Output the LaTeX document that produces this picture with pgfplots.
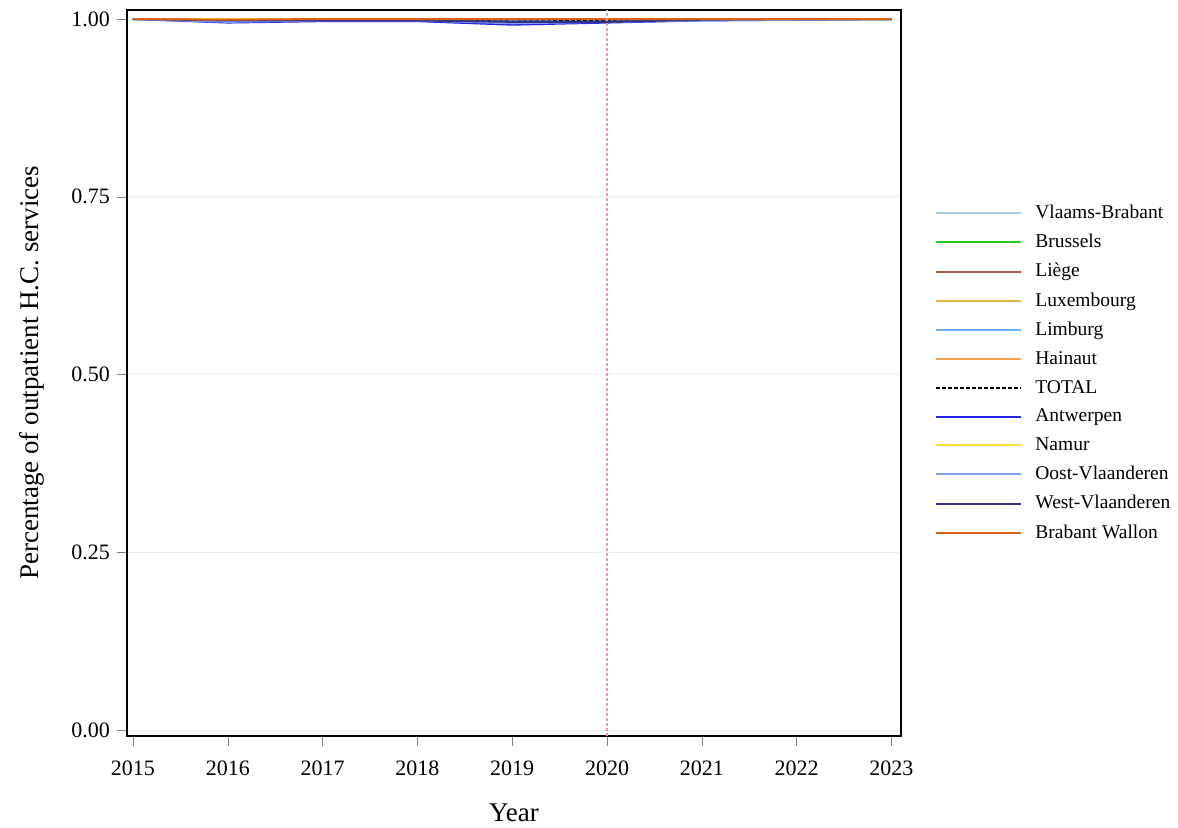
\documentclass[border=0pt]{standalone}
\usepackage{pgfplots}
\pgfplotsset{compat=1.18}
\usepackage{fontspec}
\setmainfont{Liberation Serif}
\definecolor{vbcol}{RGB}{166,206,227}
\definecolor{brcol}{RGB}{34,204,34}
\definecolor{licol}{RGB}{160,90,70}
\definecolor{lucol}{RGB}{232,176,64}
\definecolor{lmcol}{RGB}{102,178,255}
\definecolor{hacol}{RGB}{245,160,80}
\definecolor{ancol}{RGB}{34,34,224}
\definecolor{nacol}{RGB}{255,216,48}
\definecolor{ovcol}{RGB}{127,160,240}
\definecolor{wvcol}{RGB}{48,48,144}
\definecolor{bwcol}{RGB}{224,96,16}
\definecolor{refcol}{RGB}{240,150,160}
\begin{document}
\begin{tikzpicture}
\useasboundingbox (-63.5pt,-46pt) rectangle (525.5pt,368pt);
\begin{axis}[
  scale only axis, width=387pt, height=363pt,
  xmin=2014.937, xmax=2023.1,
  ymin=-0.0084, ymax=1.0127,
  xtick={2015,...,2023},
  ytick={0,0.25,0.5,0.75,1},
  yticklabel style={/pgf/number format/fixed,/pgf/number format/fixed zerofill,/pgf/number format/precision=2},
  xticklabel style={/pgf/number format/1000 sep={}, yshift=-4pt},
  /pgf/number format/assume math mode=true,
  tick label style={font=\fontsize{11}{13}\selectfont},
  label style={font=\fontsize{13.5}{15}\selectfont},
  tick align=outside, major tick length=5pt,
  tick pos=left,
  ymajorgrids, grid style={gray!15, line width=0.4pt},
  axis line style={line width=0.6pt},
  xlabel={Year}, ylabel={Percentage of outpatient H.C. services},
  xlabel style={yshift=-7pt},
  ylabel style={yshift=6.5pt},
  every axis plot/.append style={line width=1pt, mark=none},
  legend style={at={(1,0.5)}, anchor=west, xshift=17pt, draw=none, fill=none,
    font=\fontsize{9.75}{10.5}\selectfont, row sep=2.4pt, inner sep=0pt,
    nodes={inner xsep=6.5pt}},
  legend cell align=left,
  legend image code/.code={\draw[#1] (0pt,0pt) -- (42.5pt,0pt);},
]
\addplot[color=vbcol] coordinates {(2015,1)(2016,0.999)(2017,0.999)(2018,0.999)(2019,0.998)(2020,0.999)(2021,0.999)(2022,1)(2023,1)};
\addlegendentry{Vlaams-Brabant}
\addplot[color=brcol] coordinates {(2015,1)(2016,0.999)(2017,0.999)(2018,0.999)(2019,0.999)(2020,0.999)(2021,1)(2022,1)(2023,1)};
\addlegendentry{Brussels}
\addplot[color=licol] coordinates {(2015,1)(2016,1)(2017,1)(2018,1)(2019,1)(2020,1)(2021,1)(2022,1)(2023,1)};
\addlegendentry{Liège}
\addplot[color=lucol] coordinates {(2015,1)(2016,0.999)(2017,1)(2018,1)(2019,0.999)(2020,1)(2021,1)(2022,1)(2023,1)};
\addlegendentry{Luxembourg}
\addplot[color=lmcol] coordinates {(2015,1)(2016,0.998)(2017,0.999)(2018,0.999)(2019,0.997)(2020,0.998)(2021,0.999)(2022,1)(2023,1)};
\addlegendentry{Limburg}
\addplot[color=hacol] coordinates {(2015,1)(2016,1)(2017,1)(2018,1)(2019,1)(2020,1)(2021,1)(2022,1)(2023,1)};
\addlegendentry{Hainaut}
\addplot[color=black, line width=0.6pt, dash pattern=on 2pt off 1pt] coordinates {(2015,1)(2016,0.998)(2017,0.999)(2018,0.999)(2019,0.997)(2020,0.998)(2021,0.999)(2022,1)(2023,1)};
\addlegendentry{TOTAL}
\addplot[color=ancol] coordinates {(2015,1)(2016,0.995)(2017,0.997)(2018,0.997)(2019,0.992)(2020,0.995)(2021,0.998)(2022,0.999)(2023,1)};
\addlegendentry{Antwerpen}
\addplot[color=nacol] coordinates {(2015,1)(2016,1)(2017,1)(2018,1)(2019,1)(2020,1)(2021,1)(2022,1)(2023,1)};
\addlegendentry{Namur}
\addplot[color=ovcol] coordinates {(2015,1)(2016,0.996)(2017,0.998)(2018,0.998)(2019,0.994)(2020,0.996)(2021,0.998)(2022,0.999)(2023,1)};
\addlegendentry{Oost-Vlaanderen}
\addplot[color=wvcol] coordinates {(2015,1)(2016,0.998)(2017,0.998)(2018,0.998)(2019,0.996)(2020,0.996)(2021,0.999)(2022,1)(2023,1)};
\addlegendentry{West-Vlaanderen}
\addplot[color=bwcol] coordinates {(2015,1)(2016,0.999)(2017,1)(2018,1)(2019,1)(2020,1)(2021,1)(2022,1)(2023,1)};
\addlegendentry{Brabant Wallon}
\addplot[color=refcol, dash pattern=on 1.5pt off 1pt, line width=0.6pt, forget plot] coordinates {(2020,-0.0084)(2020,1.0127)};
\end{axis}
\end{tikzpicture}
\end{document}
